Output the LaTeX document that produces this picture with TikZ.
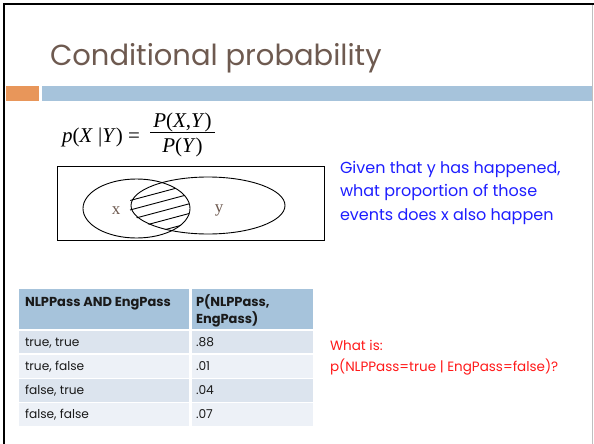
\documentclass[tikz,border=0pt]{standalone}
\usepackage{fontspec}
\setmainfont{Poppins}
\newfontfamily\timesf{Liberation Serif}
\definecolor{titlecol}{HTML}{6E5A50}
\definecolor{orangebar}{HTML}{E8965A}
\definecolor{bluebar}{HTML}{A6C3DB}
\definecolor{rowodd}{HTML}{DCE4EE}
\definecolor{roweven}{HTML}{EDF1F7}
\definecolor{bluetext}{HTML}{1E1EFF}
\definecolor{redtext}{HTML}{FF1A1A}
\definecolor{tabtext}{HTML}{1A1A1A}
\begin{document}
\begin{tikzpicture}[x=1pt,y=-1pt,
  every node/.style={inner sep=0pt, outer sep=0pt},
  lbl/.style={anchor=base west},
  bluetxt/.style={lbl, text=bluetext, font=\fontsize{16}{19}\selectfont},
  redtxt/.style={lbl, text=redtext, font=\fontsize{13.5}{16}\selectfont},
  hdr/.style={lbl, text=tabtext, font=\bfseries\fontsize{13}{15}\selectfont},
  cell/.style={lbl, text=tabtext, font=\fontsize{12.2}{14}\selectfont},
  frm/.style={text=black, font=\timesf\fontsize{21}{24}\selectfont},
  venn/.style={text=titlecol, font=\timesf\fontsize{17}{20}\selectfont}]
\useasboundingbox (0,0) rectangle (594,444);
\fill[white] (0,0) rectangle (594,444);
% slide frame
\draw[line width=2pt] (4,444) -- (4,4) -- (594,4);
\draw[black!25, line width=1pt] (592.8,5) -- (592.8,444);
% bars
\fill[orangebar] (5.5,86) rectangle (39,100.5);
\fill[bluebar] (42,86) rectangle (592.3,100.5);
% title
\node[lbl, text=titlecol, font=\fontsize{29}{34}\selectfont] (title) at (50,66) {Conditional probability};
% formula
\node[frm, anchor=base west] (lhs) at (62,142.5) {\textit{p}(\textit{X} |\textit{Y}) =};
\node[frm, anchor=base] (num) at (182.5,127) {\textit{P}(\textit{X},\textit{Y})};
\node[frm, anchor=base] (den) at (182.5,152.5) {\textit{P}(\textit{Y})};
\draw[line width=0.8pt] (150,132.5) -- (215,132.5);
% venn diagram
\draw[line width=0.9pt] (57,166) rectangle (324,240);
\draw[line width=0.9pt] (136.5,208.5) ellipse [x radius=53.5pt, y radius=29.5pt];
\draw[line width=0.9pt] (208,205.5) ellipse [x radius=77pt, y radius=28.5pt];
\begin{scope}
  \clip (136.5,208.5) ellipse [x radius=53.5pt, y radius=29.5pt];
  \clip (207,205.5) ellipse [x radius=78pt, y radius=28.5pt];
  \foreach \yy in {192.5,202,211.6,221.3,231}
    \draw[line width=0.9pt] (110,\yy+13.35) -- (210,\yy-13.35);
\end{scope}
\node[venn] (xl) at (116,211) {x};
\node[venn] (yl) at (219,210) {y};
% blue explanation
\node[bluetxt] (g1) at (340,173) {Given that y has happened,};
\node[bluetxt] (g2) at (340,196.5) {what proportion of those};
\node[bluetxt] (g3) at (340,220) {events does x also happen};
% table
\fill[bluebar] (19,289.3) rectangle (189.3,329.3);
\fill[bluebar] (191.7,289.3) rectangle (313,329.3);
\fill[rowodd] (19,330.7) rectangle (189.3,353.3);
\fill[rowodd] (191.7,330.7) rectangle (313,353.3);
\fill[roweven] (19,355) rectangle (189.3,377.7);
\fill[roweven] (191.7,355) rectangle (313,377.7);
\fill[rowodd] (19,379) rectangle (189.3,401.7);
\fill[rowodd] (191.7,379) rectangle (313,401.7);
\fill[roweven] (19,403) rectangle (189.3,425.7);
\fill[roweven] (191.7,403) rectangle (313,425.7);
\node[hdr] (h1) at (25,306.7) {NLPPass AND EngPass};
\node[hdr] (h2a) at (196,306.7) {P(NLPPass,};
\node[hdr] (h2b) at (196,323) {EngPass)};
\node[cell] (r1a) at (25,346.5) {true, true};
\node[cell] (r1b) at (196,346.5) {.88};
\node[cell] (r2a) at (25,370.8) {true, false};
\node[cell] (r2b) at (196,370.8) {.01};
\node[cell] (r3a) at (25,394.8) {false, true};
\node[cell] (r3b) at (196,394.8) {.04};
\node[cell] (r4a) at (25,418.8) {false, false};
\node[cell] (r4b) at (196,418.8) {.07};
% red question
\node[redtxt] (q1) at (330,350) {What is:};
\node[redtxt] (q2) at (330,371) {p(NLPPass=true | EngPass=false)?};
\end{tikzpicture}
\end{document}
